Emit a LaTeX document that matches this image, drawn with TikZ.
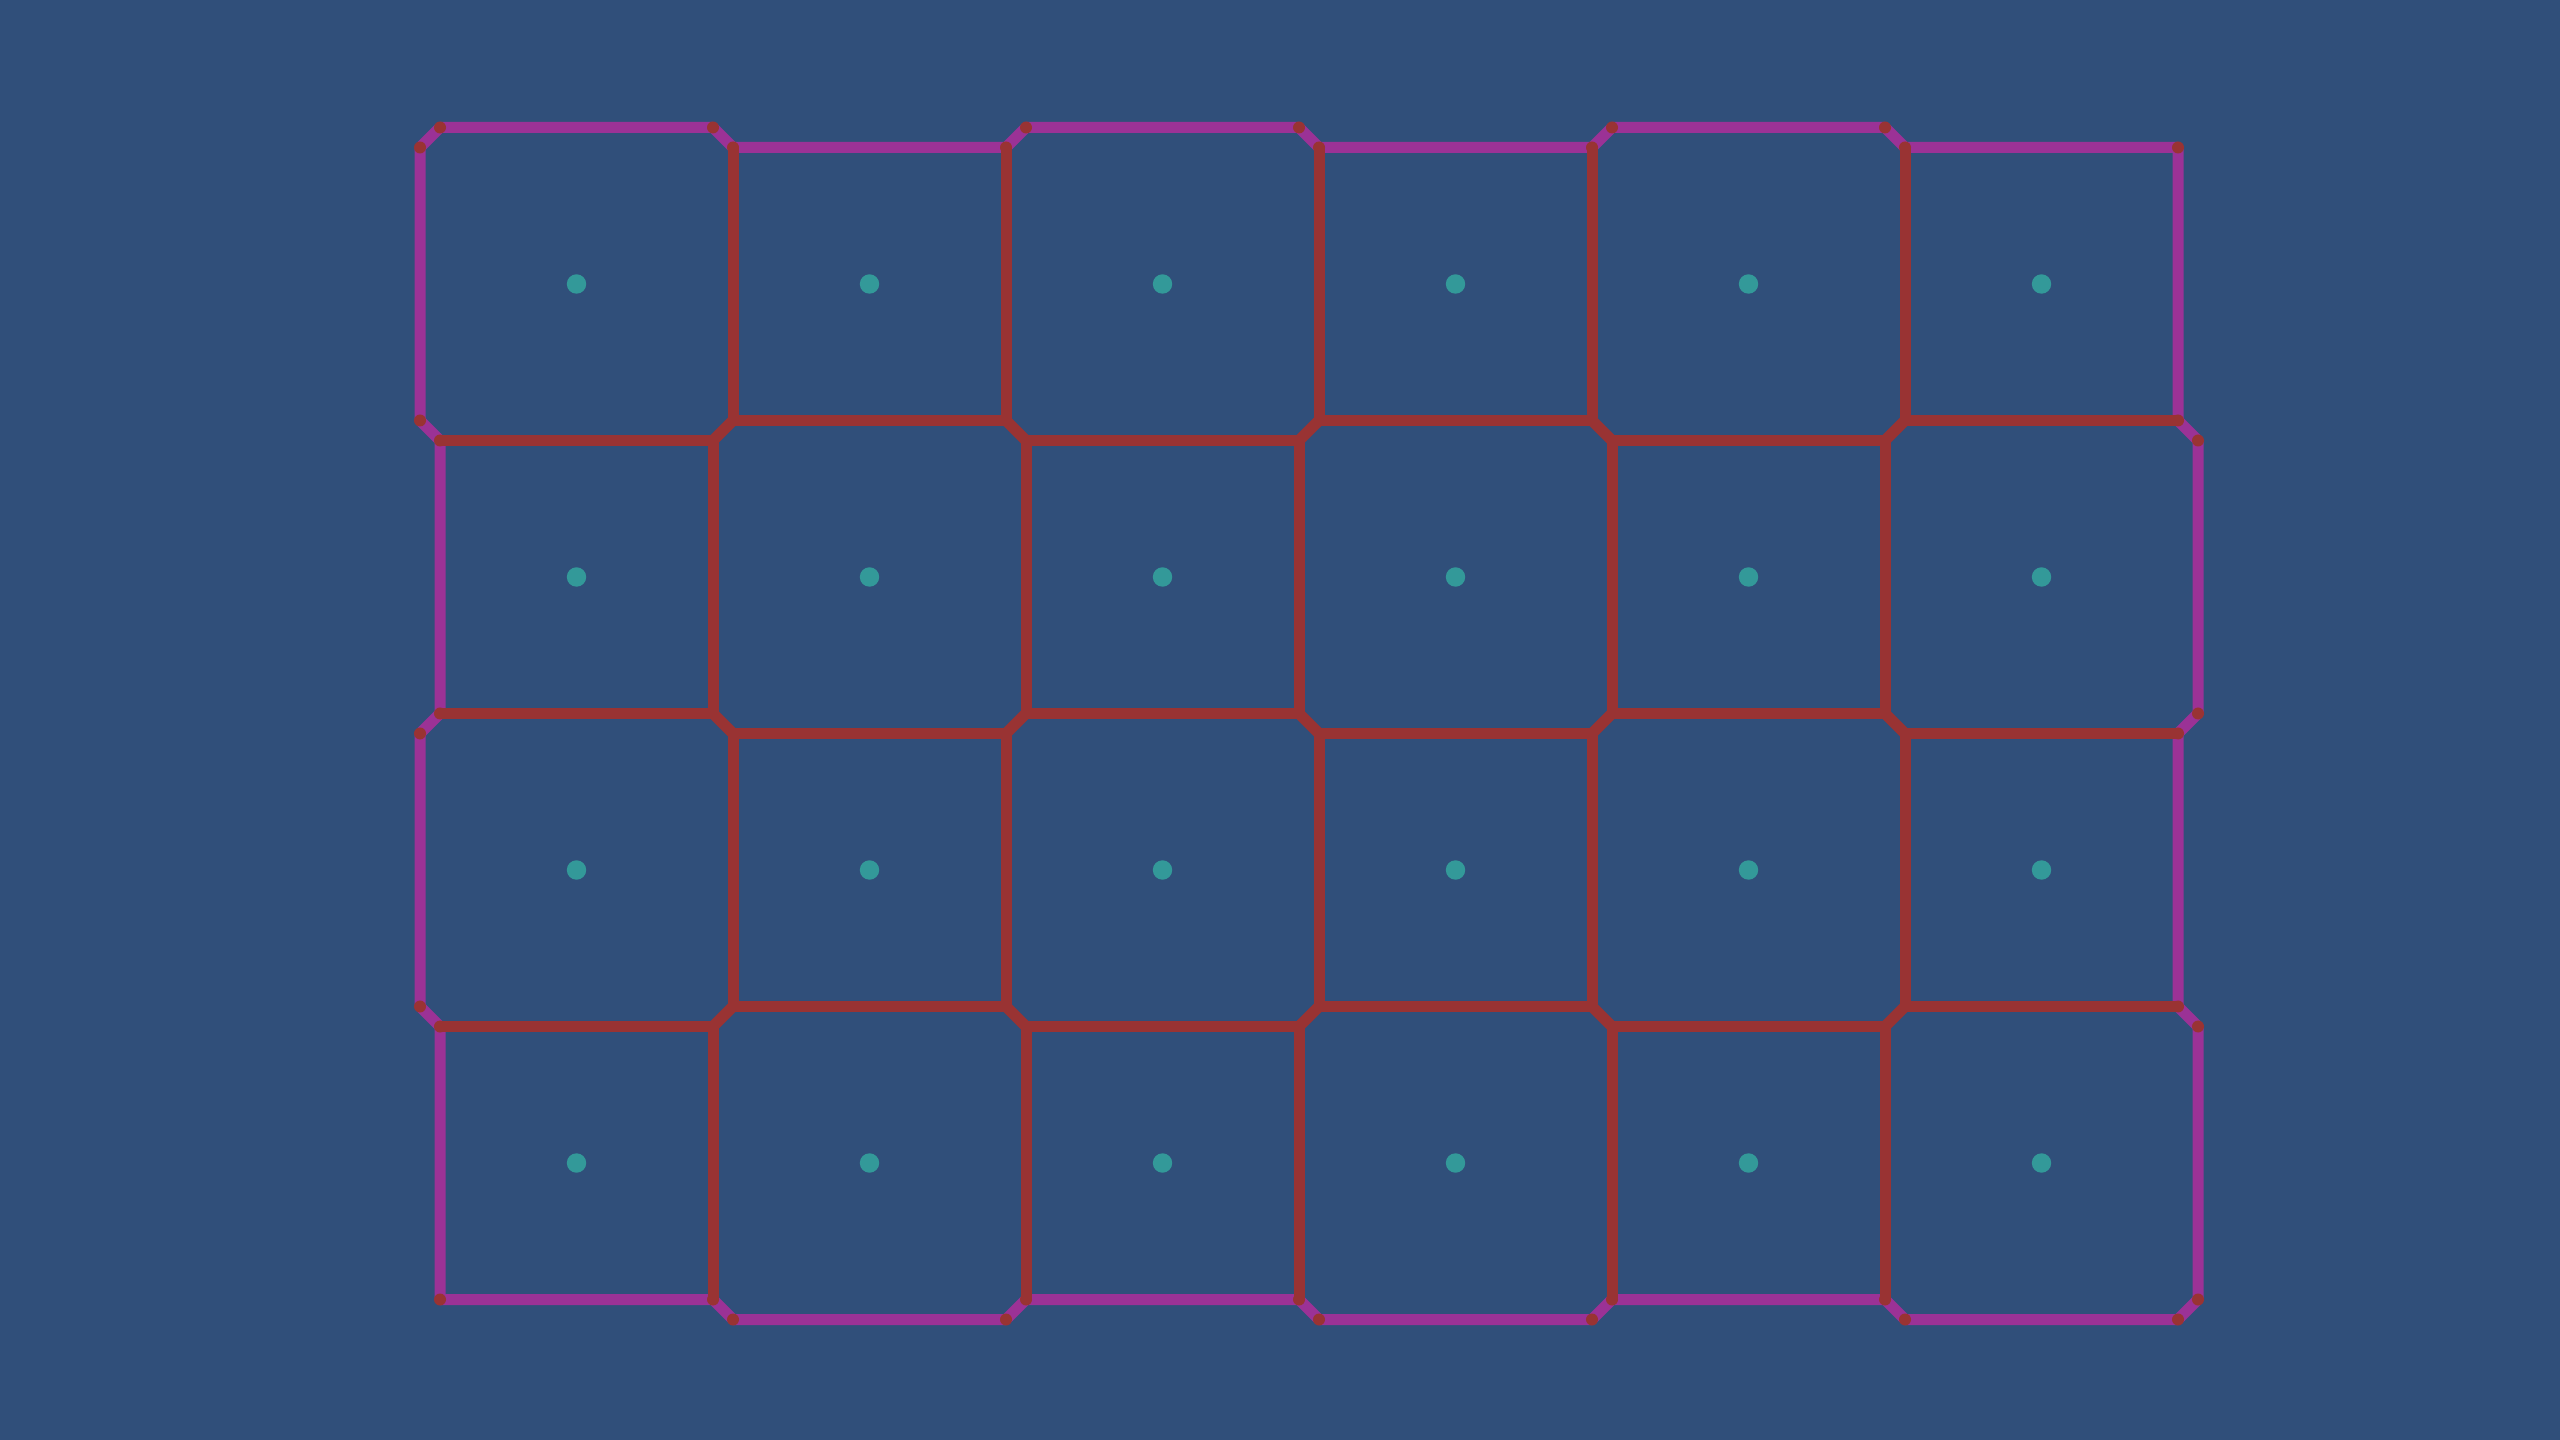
\documentclass[tikz,border=0pt]{standalone}
\usepackage{tikz}
\definecolor{bgblue}{RGB}{48,79,122}
\definecolor{edgepurple}{RGB}{155,50,150}
\definecolor{edgered}{RGB}{153,51,51}
\definecolor{siteteal}{RGB}{51,153,153}
\tikzset{
  outer/.style={draw=edgepurple,line width=0.11cm,line join=round,line cap=round},
  inner/.style={draw=edgered,line width=0.11cm,line cap=round,line join=round},
  vdot/.style={fill=edgered},
  site/.style={fill=siteteal}
}
\begin{document}
\begin{tikzpicture}[x=0.01cm,y=-0.01cm]
\useasboundingbox (0,0) rectangle (2560,1440);
\fill[bgblue] (0,0) rectangle (2560,1440);
% outer boundary
\def\boundary{(420,147.5),(440,127.5),(713,127.5),(733,147.5),(1006,147.5),(1026,127.5),(1299,127.5),(1319,147.5),(1592,147.5),(1612,127.5),(1885,127.5),(1905,147.5),(2178,147.5),
(2178,420.5),(2198,440.5),(2198,713.5),(2178,733.5),(2178,1006.5),(2198,1026.5),(2198,1299.5),(2178,1319.5),
(1905,1319.5),(1885,1299.5),(1612,1299.5),(1592,1319.5),(1319,1319.5),(1299,1299.5),(1026,1299.5),(1006,1319.5),(733,1319.5),(713,1299.5),(440,1299.5),
(440,1026.5),(420,1006.5),(420,733.5),(440,713.5),(440,440.5),(420,420.5)}
\draw[outer] (420,147.5) -- (440,127.5) -- (713,127.5) -- (733,147.5) -- (1006,147.5) -- (1026,127.5) -- (1299,127.5) -- (1319,147.5) -- (1592,147.5) -- (1612,127.5) -- (1885,127.5) -- (1905,147.5) -- (2178,147.5)
 -- (2178,420.5) -- (2198,440.5) -- (2198,713.5) -- (2178,733.5) -- (2178,1006.5) -- (2198,1026.5) -- (2198,1299.5) -- (2178,1319.5)
 -- (1905,1319.5) -- (1885,1299.5) -- (1612,1299.5) -- (1592,1319.5) -- (1319,1319.5) -- (1299,1299.5) -- (1026,1299.5) -- (1006,1319.5) -- (733,1319.5) -- (713,1299.5) -- (440,1299.5)
 -- (440,1026.5) -- (420,1006.5) -- (420,733.5) -- (440,713.5) -- (440,440.5) -- (420,420.5) -- cycle;
% horizontal interior edges
\foreach \i in {0,1,2}{
  \foreach \j in {0,...,5}{
    \pgfmathsetmacro\cx{576.5+293*\j}
    \pgfmathsetmacro\cy{284+293*\i}
    \pgfmathsetmacro\h{ifthenelse(mod(\i+\j,2)==0,156.5,136.5)}
    \draw[inner] ({\cx-136.5},{\cy+\h}) -- ({\cx+136.5},{\cy+\h});
  }
}
% vertical interior edges
\foreach \i in {0,...,3}{
  \foreach \j in {0,...,4}{
    \pgfmathsetmacro\cx{576.5+293*\j}
    \pgfmathsetmacro\cy{284+293*\i}
    \pgfmathsetmacro\h{ifthenelse(mod(\i+\j,2)==0,156.5,136.5)}
    \draw[inner] ({\cx+\h},{\cy-136.5}) -- ({\cx+\h},{\cy+136.5});
  }
}
% diagonal interior edges
\foreach \i in {0,1,2}{
  \foreach \j in {0,...,4}{
    \pgfmathsetmacro\cx{576.5+293*\j}
    \pgfmathsetmacro\cy{284+293*\i}
    \pgfmathtruncatemacro\p{mod(\i+\j,2)}
    \ifnum\p=0
      \draw[inner] ({\cx+136.5},{\cy+156.5}) -- ({\cx+156.5},{\cy+136.5});
    \else
      \draw[inner] ({\cx+136.5},{\cy+136.5}) -- ({\cx+156.5},{\cy+156.5});
    \fi
  }
}
% boundary vertex dots
\foreach \pt in \boundary{
  \fill[vdot] \pt circle[radius=0.06cm];
}
% site dots
\foreach \i in {0,...,3}{
  \foreach \j in {0,...,5}{
    \fill[site] ({576.5+293*\j},{284+293*\i}) circle[radius=0.097cm];
  }
}
\end{tikzpicture}
\end{document}
